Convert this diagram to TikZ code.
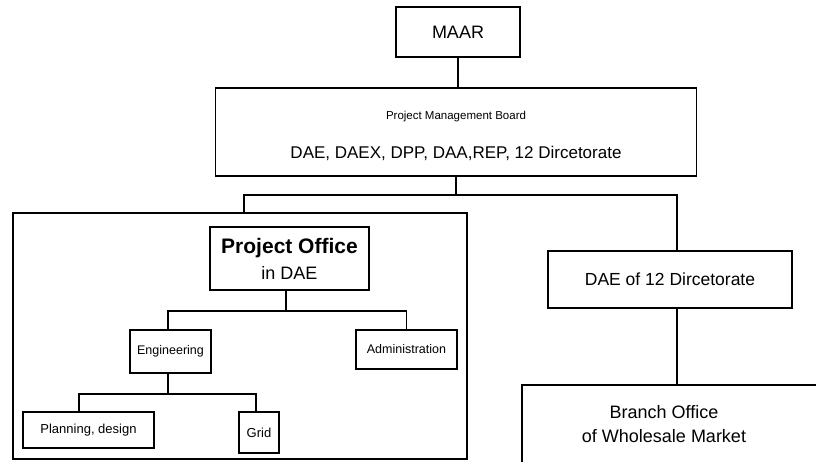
\documentclass[tikz,border=0pt]{standalone}
\usepackage{fontspec}
\setmainfont{Liberation Sans}
\usetikzlibrary{calc}

\begin{document}
\begin{tikzpicture}[x=1pt,y=-1pt,
	box/.style={draw, line width=1.6pt, inner sep=0pt, align=center},
	link/.style={line width=1.6pt}]
	 		\useasboundingbox (0,0) rectangle (816,461);
	 		\clip (0,0) rectangle (816,461);
	 		% top of the chart
	 		\node[box, minimum width=124, minimum height=50, font=\fontsize{18}{22}\selectfont] (maar) at (458,32) {MAAR};
	 		\node[box, minimum width=481, minimum height=88, font=\fontsize{17}{20}\selectfont] (pmb) at (456,132) {{\fontsize{11.5}{13}\selectfont\rule{0pt}{16pt}Project Management Board}\\[19pt]DAE, DAEX, DPP, DAA,REP, 12 Dircetorate};
	 		\coordinate (lsplit) at (244,195);
	 		\coordinate (rsplit) at (677,195);
	 		% project office frame
	 		\node[box, minimum width=454, minimum height=246] (poframe) at (240,336) {};
	 		\node[box, line width=2.2pt, minimum width=159, minimum height=63, font=\fontsize{18}{22}\selectfont] (office) at (289.5,258.5) {{\fontsize{21}{24}\selectfont\bfseries Project Office}\\[4pt]in DAE};
	 		\node[box, minimum width=81, minimum height=43, font=\fontsize{12.5}{15}\selectfont] (eng) at (170.5,351.5) {Engineering};
	 		\node[box, minimum width=101, minimum height=39, font=\fontsize{12.5}{15}\selectfont] (admin) at (406.5,349.5) {Administration};
	 		\node[box, minimum width=131, minimum height=36, font=\fontsize{13}{15}\selectfont] (plan) at (88.5,430) {Planning, design};
	 		\node[box, minimum width=40, minimum height=41, font=\fontsize{13}{15}\selectfont] (grid) at (259,432.5) {Grid};
	 		% right branch
	 		\node[box, minimum width=244, minimum height=57, font=\fontsize{17.5}{20}\selectfont] (dae12) at (670,279.5) {DAE of 12 Dircetorate};
	 		\node[box, minimum width=320, minimum height=82] (branch) at (682,426) {};
	 		\node[font=\fontsize{18}{24}\selectfont, align=center, inner sep=0pt] (branchtxt) at (664,424) {Branch Office\\of Wholesale Market};
	 		% connectors
	 		\draw[link] (maar.south) -- (maar.south |- pmb.north);
	 		\draw[link] (pmb.south) -- (pmb.south |- lsplit);
	 		\draw[link] (lsplit |- poframe.north) -- (lsplit) -- (rsplit) -- (rsplit |- dae12.north);
	 		\draw[link] (dae12.south -| rsplit) -- (rsplit |- branch.north);
	 		\coordinate (osplit) at ($(office.south)+(-3.5,20)$);
	 		\draw[link] (office.south -| osplit) -- (osplit);
	 		\draw[link] ([xshift=-2.5pt]eng.north) |- (osplit) -| (admin.north);
	 		\coordinate (esplit) at ($(eng.south)+(-2.5,20)$);
	 		\draw[link] (eng.south -| esplit) -- (esplit);
	 		\draw[link] ([xshift=-9.5pt]plan.north) |- (esplit) -| ([xshift=-3pt]grid.north);
	 	\end{tikzpicture}
\end{document}
